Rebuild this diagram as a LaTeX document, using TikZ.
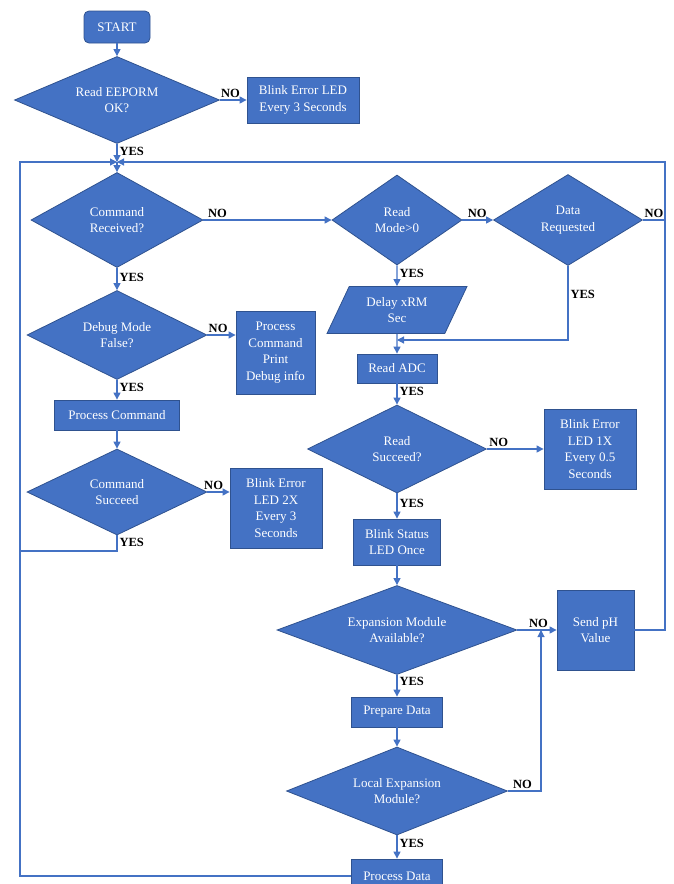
\documentclass[tikz,border=0pt]{standalone}
\usepackage{fontspec}
\setmainfont{Liberation Serif}
\usetikzlibrary{shapes.geometric,arrows.meta}
\definecolor{flowblue}{HTML}{4472C4}
\definecolor{flowedge}{HTML}{2F528F}

\begin{document}
\begin{tikzpicture}[->, >={Triangle[length=7pt,width=7pt]}, x=1pt, y=-1pt, color=flowblue, line width=1.1pt,
  box node/.style={rectangle, draw=flowedge, fill=flowblue, text=white, line width=0.8pt, align=center, inner sep=2pt},
  test node/.style={diamond, aspect=2, draw=flowedge, fill=flowblue, text=white, line width=0.8pt, align=center, inner sep=0pt},
  ans/.style={text=black, font=\fontsize{12.5}{14}\selectfont\bfseries, inner sep=2pt}]
        \tikzstyle{every node}=[font=\fontsize{13}{16.5}\selectfont]
        \useasboundingbox (0,0) rectangle (674,884);

          \node[box node, rounded corners=5pt, minimum width=66pt, minimum height=32pt] (1) at (117,27) {START};
          \node[test node, minimum width=205pt, minimum height=87pt] (2) at (117,100) {Read EEPORM\\OK?};
          \node[box node, minimum width=112pt, minimum height=46pt] (3) at (303,100) {Blink Error LED\\Every 3 Seconds};
          \node[test node, minimum width=172pt, minimum height=95pt] (4) at (117,220) {Command\\Received?};
          \node[test node, minimum width=130pt, minimum height=90pt] (5) at (397,220) {Read\\Mode>0};
          \node[test node, minimum width=149pt, minimum height=91pt] (6) at (568,220) {Data\\Requested};
          \node[box node, trapezium, trapezium left angle=63, trapezium right angle=117, trapezium stretches=true,
                minimum width=140pt, minimum height=47pt] (7) at (397,310) {Delay xRM\\Sec};
          \node[box node, minimum width=80pt, minimum height=29pt] (8) at (397,368.5) {Read ADC};
          \node[test node, minimum width=180pt, minimum height=89pt] (9) at (117,335) {Debug Mode\\False?};
          \node[box node, minimum width=79pt, minimum height=83pt] (10) at (275.5,352.5) {Process\\Command\\Print\\Debug info};
          \node[box node, minimum width=125pt, minimum height=30pt] (11) at (117,415) {Process Command};
          \node[test node, minimum width=180pt, minimum height=86pt] (12) at (117,492) {Command\\Succeed};
          \node[box node, minimum width=92pt, minimum height=80pt] (13) at (276,508) {Blink Error\\LED 2X\\Every 3\\Seconds};
          \node[test node, minimum width=179pt, minimum height=88pt] (14) at (397,449) {Read\\Succeed?};
          \node[box node, minimum width=92pt, minimum height=80pt] (15) at (590,449) {Blink Error\\LED 1X\\Every 0.5\\Seconds};
          \node[box node, minimum width=87pt, minimum height=46pt] (16) at (397,542) {Blink Status\\LED Once};
          \node[test node, minimum width=240pt, minimum height=89pt] (17) at (397,630) {Expansion Module\\Available?};
          \node[box node, minimum width=77pt, minimum height=80pt] (18) at (595.5,630) {Send pH\\Value};
          \node[box node, minimum width=91pt, minimum height=30pt] (19) at (397,712) {Prepare Data};
          \node[test node, minimum width=221pt, minimum height=88pt] (20) at (397,791) {Local Expansion\\Module?};
          \node[box node, minimum width=91pt, minimum height=34pt] (21) at (397,876) {Process Data};

          \coordinate (j) at (117,162);
          \coordinate (lt) at (20,162);
          \coordinate (rt) at (665,162);
          \coordinate (rj) at (665,220);
          \coordinate (lj) at (20,551);
          \coordinate (dj) at (397,340);
          \coordinate (ej) at (541,630);

          % main loop
          \path
            (1.south) edge (2.north)
            (2.east) edge node [ans, above, pos=0.4] {NO} (3.west)
            (2.south) edge node [ans, right, pos=0.4] {YES} (j)
            (j) edge (4.north)
            (4.east) edge node [ans, above, pos=0.11] {NO} (5.west)
            (5.east) edge node [ans, above, pos=0.48] {NO} (6.west)
            (5.south) edge node [ans, right, pos=0.38] {YES} (7.north)
            (7.south) edge (8.north)
            (4.south) edge node [ans, right, pos=0.45] {YES} (9.north)
            (9.east) edge node [ans, above, pos=0.38] {NO} (9.east -| 10.west)
            (9.south) edge node [ans, right, pos=0.4] {YES} (11.north)
            (11.south) edge (12.north)
            (12.east) edge node [ans, above, pos=0.28] {NO} (12.east -| 13.west)
            (8.south) edge node [ans, right, pos=0.4] {YES} (14.north)
            (14.east) edge node [ans, above, pos=0.21] {NO} (15.west)
            (14.south) edge node [ans, right, pos=0.38] {YES} (16.north)
            (16.south) edge (17.north)
            (17.east) edge node [ans, above, pos=0.54] {NO} (18.west)
            (17.south) edge node [ans, right, pos=0.3] {YES} (19.north)
            (19.south) edge (20.north)
            (20.south) edge node [ans, right, pos=0.33] {YES} (21.north);

          % loops back
          \draw (21.west) -| (lt) -- (j);
          \draw (18.east) -| (rt) -- (j);
          \draw[-] (6.east) -- node [ans, above] {NO} (rj);
          \draw[-] (12.south) |- node [ans, right, pos=0.22] {YES} (lj);
          \draw (6.south) |- node [ans, right, pos=0.19] {YES} (dj);
          \draw (20.east) -| node [ans, above, pos=0.22] {NO} (ej);

\end{tikzpicture}
\end{document}
